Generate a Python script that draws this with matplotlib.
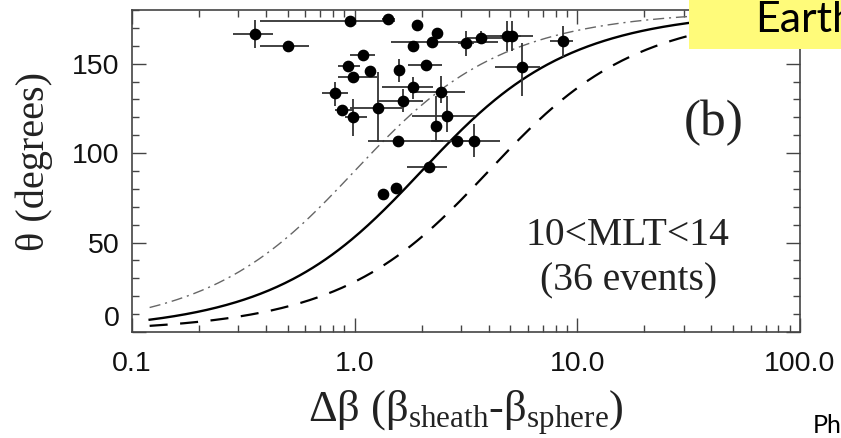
import numpy as np
import matplotlib
matplotlib.use("Agg")
import matplotlib.pyplot as plt
from matplotlib.patches import Rectangle
from matplotlib.ticker import FixedLocator, LogLocator, NullFormatter

plt.rcParams['mathtext.fontset'] = 'custom'
plt.rcParams['mathtext.rm'] = 'Liberation Serif'
plt.rcParams['mathtext.it'] = 'Liberation Serif:italic'
plt.rcParams['lines.scale_dashes'] = False

# ---- data: events (delta beta, theta) with error bounds ----
dbeta = [0.357, 0.500, 0.953, 1.416, 1.91, 2.35, 2.22, 1.83, 3.16, 3.68,
         4.81, 5.07, 8.59, 2.09, 5.62, 1.82, 2.43, 1.086, 0.936, 1.17,
         0.986, 1.58, 0.816, 0.874, 0.986, 1.27, 1.65, 1.57, 1.34, 1.53,
         2.60, 2.33, 2.87, 3.43, 2.16]
theta = [166.5, 159.6, 173.9, 174.9, 171.7, 167.4, 162.2, 159.6, 161.5, 164.3,
         165.6, 165.6, 162.8, 149.2, 147.9, 136.7, 134.3, 154.8, 148.8, 145.7,
         142.3, 146.4, 133.4, 124.1, 120.0, 125.2, 129.3, 107.0, 77.3, 80.7,
         121.0, 115.4, 106.6, 107.0, 92.2]
dbeta_lo = [0.284, 0.376, 0.376, 1.33, 1.85, 2.25, 1.45, 1.78, 2.90, 3.20,
            3.77, 4.50, 7.53, 1.73, 4.27, 1.32, 1.77, 0.953, 0.841, 1.12,
            0.841, 1.52, 0.711, 0.816, 0.905, 0.953, 1.255, 1.15, 1.30, 1.48,
            1.80, 2.25, 2.20, 3.00, 1.72]
dbeta_hi = [0.428, 0.625, 1.52, 1.52, 1.97, 2.45, 4.40, 1.88, 3.45, 4.60,
            6.32, 5.60, 9.55, 2.46, 6.79, 2.25, 3.13, 1.233, 1.056, 1.22,
            1.255, 1.64, 0.936, 0.986, 1.132, 1.63, 2.03, 2.50, 1.38, 1.58,
            3.47, 2.42, 3.60, 4.49, 2.59]
theta_lo = [158.5, 158.0, 172.5, 173.5, 170.0, 165.5, 160.5, 158.0, 154.4, 161.0,
            157.0, 157.0, 154.0, 147.5, 132.0, 130.0, 128.0, 153.0, 147.0, 144.0,
            140.5, 139.5, 126.5, 122.5, 109.8, 106.1, 122.8, 105.5, 76.0, 79.0,
            111.6, 106.0, 105.0, 97.7, 90.5]
theta_hi = [174.5, 161.0, 175.5, 176.5, 173.5, 169.0, 164.0, 161.5, 168.3, 168.0,
            174.0, 174.0, 171.0, 151.0, 161.8, 142.3, 143.3, 156.5, 150.5, 147.5,
            144.0, 152.6, 139.5, 125.8, 130.3, 145.1, 135.8, 108.5, 78.5, 82.5,
            132.0, 132.0, 108.0, 116.5, 94.0]

# ---- model curves: L/lambda ratios for each line ----
curve_ratios = [1.0, 2.0, 0.5]          # solid, dashed, dash-dot
curve_dbeta_range = [0.12, 100.0]

xticks = [0.1, 1.0, 10.0, 100.0]
xticklabels = ["0.1", "1.0", "10.0", "100.0"]
yticks = [0, 50, 100, 150]
yticklabels = ["0", "50", "100", "150"]

fig = plt.figure(figsize=(8.41, 4.38), dpi=100)
ax = fig.add_axes([132/841, (438-332)/438, (800-132)/841, (332-10)/438])

x = np.array(dbeta)
y = np.array(theta)
xerr = [x - np.array(dbeta_lo), np.array(dbeta_hi) - x]
yerr = [y - np.array(theta_lo), np.array(theta_hi) - y]
ax.errorbar(x, y, xerr=xerr, yerr=yerr, fmt='o', color='black', ms=7.4,
            ecolor='#333333', elinewidth=1.3, capsize=0, zorder=3)

xc = np.logspace(np.log10(curve_dbeta_range[0]), np.log10(curve_dbeta_range[1]), 400)
styles = [dict(color='black', lw=1.7, ls='-'),
          dict(color='black', lw=1.6, dashes=(13, 9)),
          dict(color='#666666', lw=1.0, dashes=(8, 3.5, 1.5, 3.5))]
for r, st in zip(curve_ratios, styles):
    ax.plot(xc, np.degrees(2*np.arctan(xc/(2*r))), zorder=2, **st)

ax.set_xscale('log')
ax.set_xlim(0.1, 100)
ax.set_ylim(0, 180)
ax.xaxis.set_major_locator(FixedLocator(xticks))
ax.set_xticklabels(xticklabels)
ax.xaxis.set_minor_locator(LogLocator(base=10, subs=np.arange(2, 10)))
ax.xaxis.set_minor_formatter(NullFormatter())
ax.set_yticks(yticks)
ax.set_yticklabels(yticklabels)
ax.yaxis.set_minor_locator(FixedLocator(np.arange(0, 181, 10)))

for sp in ax.spines.values():
    sp.set_color('#444444')
    sp.set_linewidth(1.2)
ax.tick_params(which='both', direction='in', top=True, right=True,
               color='#444444', width=1.0)
ax.tick_params(which='major', length=10)
ax.tick_params(which='minor', length=5)
ax.tick_params(axis='x', which='major', pad=14, labelsize=20.5)
ax.tick_params(axis='y', which='major', pad=9, labelsize=20.5)
for lab in ax.get_xticklabels() + ax.get_yticklabels():
    lab.set_family('Liberation Sans')
    lab.set_color('#111111')
ax.get_yticklabels()[0].set_va('bottom')

ax.set_xlabel(r"Δβ (β$_{\rm sheath}$-β$_{\rm sphere}$)", family='Liberation Serif',
              fontsize=32, color='#222222')
ax.xaxis.set_label_coords(0.5, -0.175)
ax.xaxis.label.set_va('top')
ax.set_ylabel("θ (degrees)", family='Liberation Serif', fontsize=29, color='#222222')
ax.yaxis.set_label_coords(-0.118, 0.53)

fig.text(714/841, (438-135)/438, "(b)", fontsize=37, family='Liberation Serif',
         ha='center', va='baseline', color='#222222')
fig.text(627/841, (438-245)/438, "10<MLT<14", fontsize=28.5,
         family='Liberation Serif', ha='center', va='baseline', color='#222222')
fig.text(629/841, (438-290)/438, "(36 events)", fontsize=28.5,
         family='Liberation Serif', ha='center', va='baseline', color='#222222')

fig.patches.append(Rectangle((689/841, (438-49)/438), 1 - 689/841, 49/438,
                             transform=fig.transFigure, facecolor='#FFFB7A',
                             edgecolor='none', zorder=10))
fig.text(755/841, (438-32)/438, "Earth", fontsize=31, family='Lato',
         ha='left', va='baseline', color='black', zorder=11)
fig.text(813/841, (438-433)/438, "Ph", fontsize=18, family='Lato',
         ha='left', va='baseline', color='black')

fig.savefig('out.png', dpi=100)
